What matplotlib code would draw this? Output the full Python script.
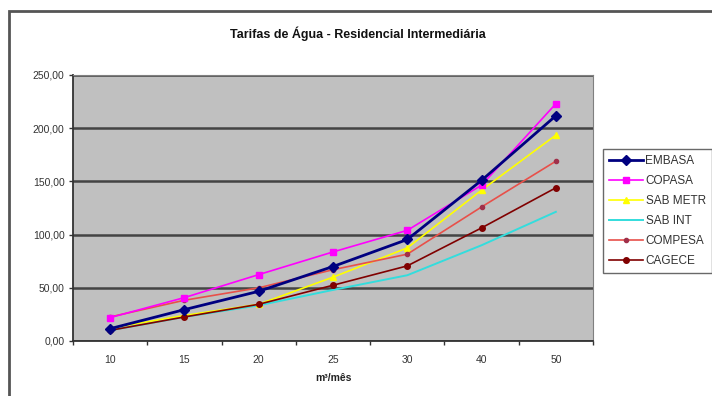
import matplotlib.pyplot as plt
from matplotlib.patches import Rectangle
from matplotlib.ticker import FuncFormatter

plt.rcParams['font.family'] = ['Liberation Sans', 'DejaVu Sans']

# consumption bands (m3/month) and tariffs per company
categories = ['10', '15', '20', '25', '30', '40', '50']
embasa = [11.6, 29.5, 46.7, 70.0, 95.4, 151.0, 211.7]
copasa = [22.0, 40.8, 62.4, 83.7, 104.0, 146.5, 223.0]
sab_metr = [12.0, 24.0, 34.5, 60.0, 87.5, 141.8, 193.5]
sab_int = [10.0, 22.6, 33.5, 48.0, 61.8, 90.0, 121.4]
compesa = [22.6, 38.3, 50.0, 67.0, 81.6, 126.0, 169.0]
cagece = [10.0, 22.6, 34.5, 52.4, 70.6, 106.3, 144.0]

fig = plt.figure(figsize=(7.12, 3.96), dpi=100)

# outer chart frame, runs off the right/bottom of the picture
fig.patches.append(Rectangle((9 / 712, -0.05), 1.0, 1 - 11 / 396 + 0.05,
                             transform=fig.transFigure, fill=False,
                             edgecolor='#555555', linewidth=2.0))

ax = fig.add_axes([73 / 712, 1 - 341 / 396, (593 - 73) / 712, (341 - 75) / 396])
ax.set_facecolor('#C0C0C0')

x = [i + 0.5 for i in range(len(categories))]

ax.plot(x, embasa, color='#000080', marker='D', markersize=5.5, linewidth=2.0, label='EMBASA', zorder=6)
ax.plot(x, copasa, color='#FF00FF', marker='s', markersize=4.5, linewidth=1.2, label='COPASA', zorder=5)
ax.plot(x, sab_metr, color='#FFFF00', marker='^', markersize=5, linewidth=1.2, label='SAB METR', zorder=4)
ax.plot(x, sab_int, color='#33DDDD', linewidth=1.4, label='SAB INT', zorder=3)
ax.plot(x, compesa, color='#E8504A', marker='o', markersize=3, markerfacecolor='#A0304A',
        markeredgecolor='#A0304A', linewidth=1.2, label='COMPESA', zorder=4)
ax.plot(x, cagece, color='#800000', marker='o', markersize=4, linewidth=1.2, label='CAGECE', zorder=4)

ax.set_xlim(0, len(categories))
ax.set_ylim(0, 250)
ax.set_yticks([0, 50, 100, 150, 200, 250])
ax.yaxis.set_major_formatter(FuncFormatter(lambda v, p: f'{v:.2f}'.replace('.', ',')))
ax.set_xticks(range(len(categories) + 1))
ax.set_xticklabels([])
ax.set_xticks(x, minor=True)
ax.set_xticklabels(categories, minor=True)
ax.tick_params(axis='x', which='minor', length=0, pad=10, labelsize=7.5, labelcolor='#333333')
ax.tick_params(axis='x', which='major', length=3, width=1, color='#333333')
ax.tick_params(axis='y', length=3, width=1, color='#333333', labelsize=7.5, labelcolor='#333333', pad=3)

ax.grid(axis='y', color='#444444', linewidth=1.8)
ax.set_axisbelow(True)
ax.spines['top'].set_color('#808080')
ax.spines['right'].set_color('#808080')
ax.spines['left'].set_color('#333333')
ax.spines['bottom'].set_color('#333333')
ax.spines['left'].set_linewidth(1.3)
ax.spines['bottom'].set_linewidth(1.3)

ax.set_xlabel('m³/mês', fontsize=7.5, fontweight='bold', color='#222222', labelpad=6)
fig.text(0.503, 1 - 34 / 396, 'Tarifas de Água - Residencial Intermediária',
         ha='center', va='center', fontsize=9, fontweight='bold', color='#111111')

leg = ax.legend(loc='upper left', bbox_to_anchor=(603 / 712, 1 - 149 / 396),
                bbox_transform=fig.transFigure, fontsize=8.5, frameon=True, fancybox=False,
                edgecolor='#444444', handlelength=2.9, handletextpad=0.2,
                labelspacing=0.68, borderpad=0.5, borderaxespad=0)
leg.get_frame().set_linewidth(1.0)
for t in leg.get_texts():
    t.set_color('#333333')

fig.savefig('out.png', dpi=100)
